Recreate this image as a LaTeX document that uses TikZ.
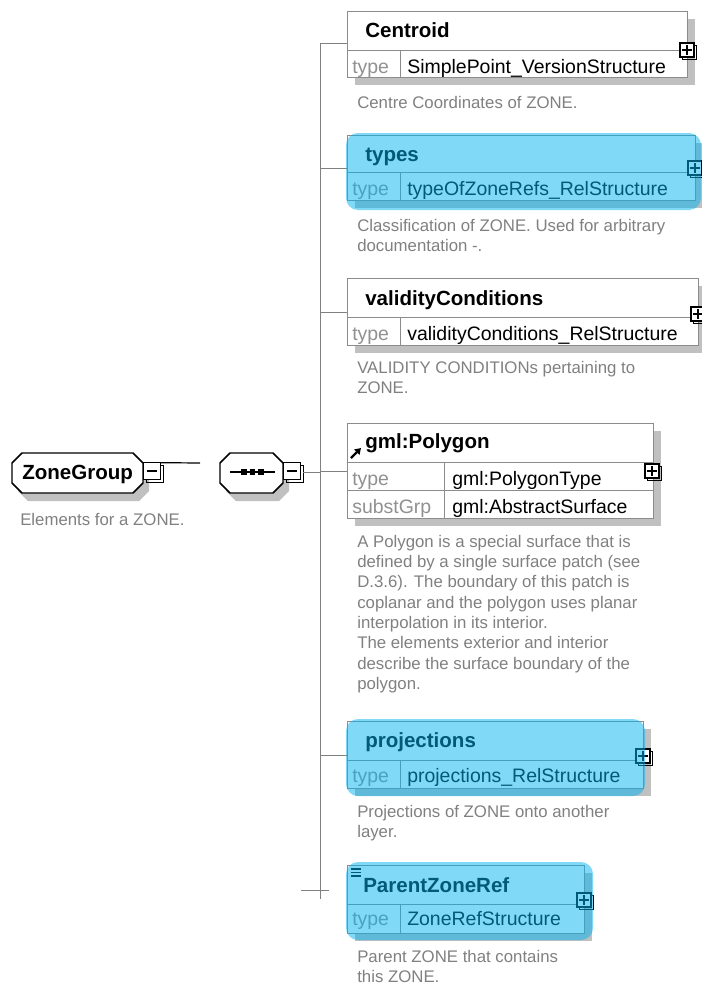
\documentclass[tikz,border=0pt]{standalone}
\usepackage{fontspec}
\setmainfont{Liberation Sans}
\usetikzlibrary{calc,arrows.meta}

\definecolor{boxgray}{RGB}{140,140,140}
\definecolor{shadowgray}{RGB}{192,192,192}
\definecolor{labelgray}{RGB}{145,145,145}
\definecolor{descgray}{RGB}{128,128,128}
\definecolor{linegray}{RGB}{128,128,128}
\definecolor{hilite}{RGB}{0,180,240}

\tikzset{
  title/.style={anchor=base west, inner sep=0, font=\fontsize{15.4}{18}\selectfont\bfseries},
  rowtext/.style={anchor=base west, inner sep=0, font=\fontsize{14.6}{17}\selectfont},
  rowlabel/.style={rowtext, text=labelgray},
  desc/.style={anchor=north west, inner sep=0, align=left, text=descgray,
               font=\fontsize{12.6}{15.2}\selectfont},
  boxline/.style={draw=boxgray, line width=0.75pt},
  conn/.style={draw=linegray, line width=0.75pt},
  highlight/.style={fill=hilite, fill opacity=0.5, rounded corners=9pt},
}

% element box with drop shadow and header separator: name, L, T, R, H, B
\newcommand\ElementBox[6]{%
  \fill[shadowgray] (#2+8,#3+8) rectangle (#4+8,#6+8);
  \node[boxline, fill=white, inner sep=0, outer sep=0, anchor=north west,
        minimum width={(#4-#2)*0.75pt}, minimum height={(#6-#3)*0.75pt}] (#1) at (#2,#3) {};
  \draw[boxline] (#2,#5) -- (#4,#5);
}

% expand (+) button: name, cx, cy
\newcommand\PlusButton[3]{%
  \draw[black, line width=0.75pt] (#2-5,#3-5) rectangle (#2+9,#3+9);
  \node[draw=black, fill=white, line width=0.9pt, minimum size=10.5pt,
        inner sep=0, outer sep=0] (#1) at (#2,#3) {};
  \draw[black, line width=0.9pt] (#2-5,#3) -- (#2+5,#3) (#2,#3-5) -- (#2,#3+5);
}

% collapse (-) button: name, cx, cy
\newcommand\MinusButton[3]{%
  \draw[black, line width=0.75pt] (#2-6,#3-6) rectangle (#2+11,#3+11);
  \node[draw=black, fill=white, line width=0.9pt, minimum size=12.5pt,
        inner sep=0, outer sep=0] (#1) at (#2,#3) {};
  \draw[black, line width=0.9pt] (#2-5,#3) -- (#2+5,#3);
}

% octagon with shadow: L, T, R, B
\newcommand\Octagon[4]{%
  \fill[shadowgray] (#1+16,#2+8) -- (#3-4,#2+8) -- (#3+6,#2+18) -- (#3+6,#4-2)
    -- (#3-4,#4+8) -- (#1+16,#4+8) -- (#1+6,#4-2) -- (#1+6,#2+18) -- cycle;
  \draw[black, fill=white, line width=1.1pt] (#1+10,#2) -- (#3-10,#2) -- (#3,#2+10)
    -- (#3,#4-10) -- (#3-10,#4) -- (#1+10,#4) -- (#1,#4-10) -- (#1,#2+10) -- cycle;
}

\begin{document}
\begin{tikzpicture}[x=0.75pt,y=-0.75pt]
\useasboundingbox (0,0) rectangle (702,985);

% ---------- ZoneGroup and its sequence compositor ----------
\Octagon{12}{453}{143}{493}
\node[title] (zonegroup) at (22,479) {ZoneGroup};
\MinusButton{zg-btn}{152}{471}
\coordinate (zg-tail) at (200,463);
\draw[black, line width=0.9pt] (zg-btn.north east) -- (zg-tail);
\node[desc] (zg-desc) at (20,513) {Elements for a ZONE.};

\Octagon{220}{453}{283}{493}
\coordinate (seq-a) at (230,472);
\coordinate (seq-b) at (275,472);
\draw[black, line width=1pt] (seq-a) -- (seq-b);
\foreach \sx [count=\k] in {244,252.5,261}
  \node[fill=black, minimum size=4.2pt, inner sep=0] (seq-dot\k) at (\sx,472) {};
\MinusButton{seq-btn}{292}{471}

% ---------- spine ----------
\coordinate (spine-top) at (320,43);
\coordinate (spine-bot) at (320,899);
\coordinate (seq-out) at (303,472);
\draw[conn] (spine-top) -- (spine-bot);
\draw[conn] (seq-out) -- (seq-out -| spine-top);

% ---------- Centroid ----------
\ElementBox{centroid}{347}{11}{687}{50}{77}
\draw[boxline] (400,50) -- (400,77);
\node[title] (centroid-title) at (365,37) {Centroid};
\node[rowlabel] (centroid-tl) at (352,73) {type};
\node[rowtext] (centroid-tv) at (407,73) {SimplePoint\_VersionStructure};
\PlusButton{centroid-btn}{687}{50}
\coordinate (centroid-in) at (347,43);
\draw[conn] (centroid-in -| spine-top) -- (centroid-in);
\node[desc] (centroid-desc) at (357,96) {Centre Coordinates of ZONE.};

% ---------- types ----------
\ElementBox{types}{347}{135}{695}{172}{200}
\draw[boxline] (400,172) -- (400,200);
\node[title] (types-title) at (365,161) {types};
\node[rowlabel] (types-tl) at (352,195) {type};
\node[rowtext] (types-tv) at (407,195) {typeOfZoneRefs\_RelStructure};
\PlusButton{types-btn}{695}{168}
\fill[highlight] (346,133) rectangle (701,210);
\coordinate (types-in) at (347,168);
\draw[conn] (types-in -| spine-top) -- (types-in);
\node[desc] (types-desc) at (357,219) {Classification of ZONE. Used for arbitrary\\documentation -.};

% ---------- validityConditions ----------
\ElementBox{validity}{347}{278}{698}{317}{345}
\draw[boxline] (400,317) -- (400,345);
\node[title] (validity-title) at (365,305) {validityConditions};
\node[rowlabel] (validity-tl) at (352,340) {type};
\node[rowtext] (validity-tv) at (407,340) {validityConditions\_RelStructure};
\PlusButton{validity-btn}{698}{314}
\coordinate (validity-in) at (347,312);
\draw[conn] (validity-in -| spine-top) -- (validity-in);
\node[desc] (validity-desc) at (357,361) {VALIDITY CONDITIONs pertaining to\\ZONE.};

% ---------- gml:Polygon ----------
\ElementBox{polygon}{347}{423}{653}{462}{518}
\draw[boxline] (347,490) -- (653,490);
\draw[boxline] (444,462) -- (444,518);
\coordinate (ref-a) at (351,458);
\coordinate (ref-b) at (361,448);
\draw[black, line width=1.8pt, -{Triangle[length=4.5pt,width=5.5pt]}] (ref-a) -- (ref-b);
\node[title] (polygon-title) at (365,448) {gml:Polygon};
\node[rowlabel] (polygon-tl) at (352,485) {type};
\node[rowtext] (polygon-tv) at (452,485) {gml:PolygonType};
\node[rowlabel] (polygon-sl) at (352,513) {substGrp};
\node[rowtext] (polygon-sv) at (452,513) {gml:AbstractSurface};
\PlusButton{polygon-btn}{652}{471}
\coordinate (polygon-in) at (347,471);
\draw[conn] (polygon-in -| spine-top) -- (polygon-in);
\node[desc] (polygon-desc) at (357,535) {A Polygon is a special surface that is\\defined by a single surface patch (see\\D.3.6). The boundary of this patch is\\coplanar and the polygon uses planar\\interpolation in its interior.\\The elements exterior and interior\\describe the surface boundary of the\\polygon.};

% ---------- projections ----------
\ElementBox{projections}{347}{721}{643}{760}{788}
\draw[boxline] (400,760) -- (400,788);
\node[title] (projections-title) at (365,747) {projections};
\node[rowlabel] (projections-tl) at (352,782) {type};
\node[rowtext] (projections-tv) at (407,782) {projections\_RelStructure};
\PlusButton{projections-btn}{643}{756}
\fill[highlight] (346,719) rectangle (645,796);
\coordinate (projections-in) at (347,755);
\draw[conn] (projections-in -| spine-top) -- (projections-in);
\node[desc] (projections-desc) at (357,805) {Projections of ZONE onto another\\layer.};

% ---------- ParentZoneRef ----------
\ElementBox{parent}{347}{865}{584}{904}{933}
\draw[boxline] (400,904) -- (400,933);
\foreach \ly [count=\k] in {869,872.5,876}
  \draw[black, line width=0.9pt] (351,\ly) coordinate (parent-m\k) -- (361,\ly);
\node[title] (parent-title) at (363,892) {ParentZoneRef};
\node[rowlabel] (parent-tl) at (352,925) {type};
\node[rowtext] (parent-tv) at (407,925) {ZoneRefStructure};
\PlusButton{parent-btn}{584}{900}
\fill[highlight] (346,862) rectangle (593,940);
\coordinate (parent-stub-a) at (301,890);
\coordinate (parent-stub-b) at (329,890);
\draw[conn] (parent-stub-a) -- (parent-stub-b);
\node[desc] (parent-desc) at (357,950) {Parent ZONE that contains\\this ZONE.};

\end{tikzpicture}
\end{document}
